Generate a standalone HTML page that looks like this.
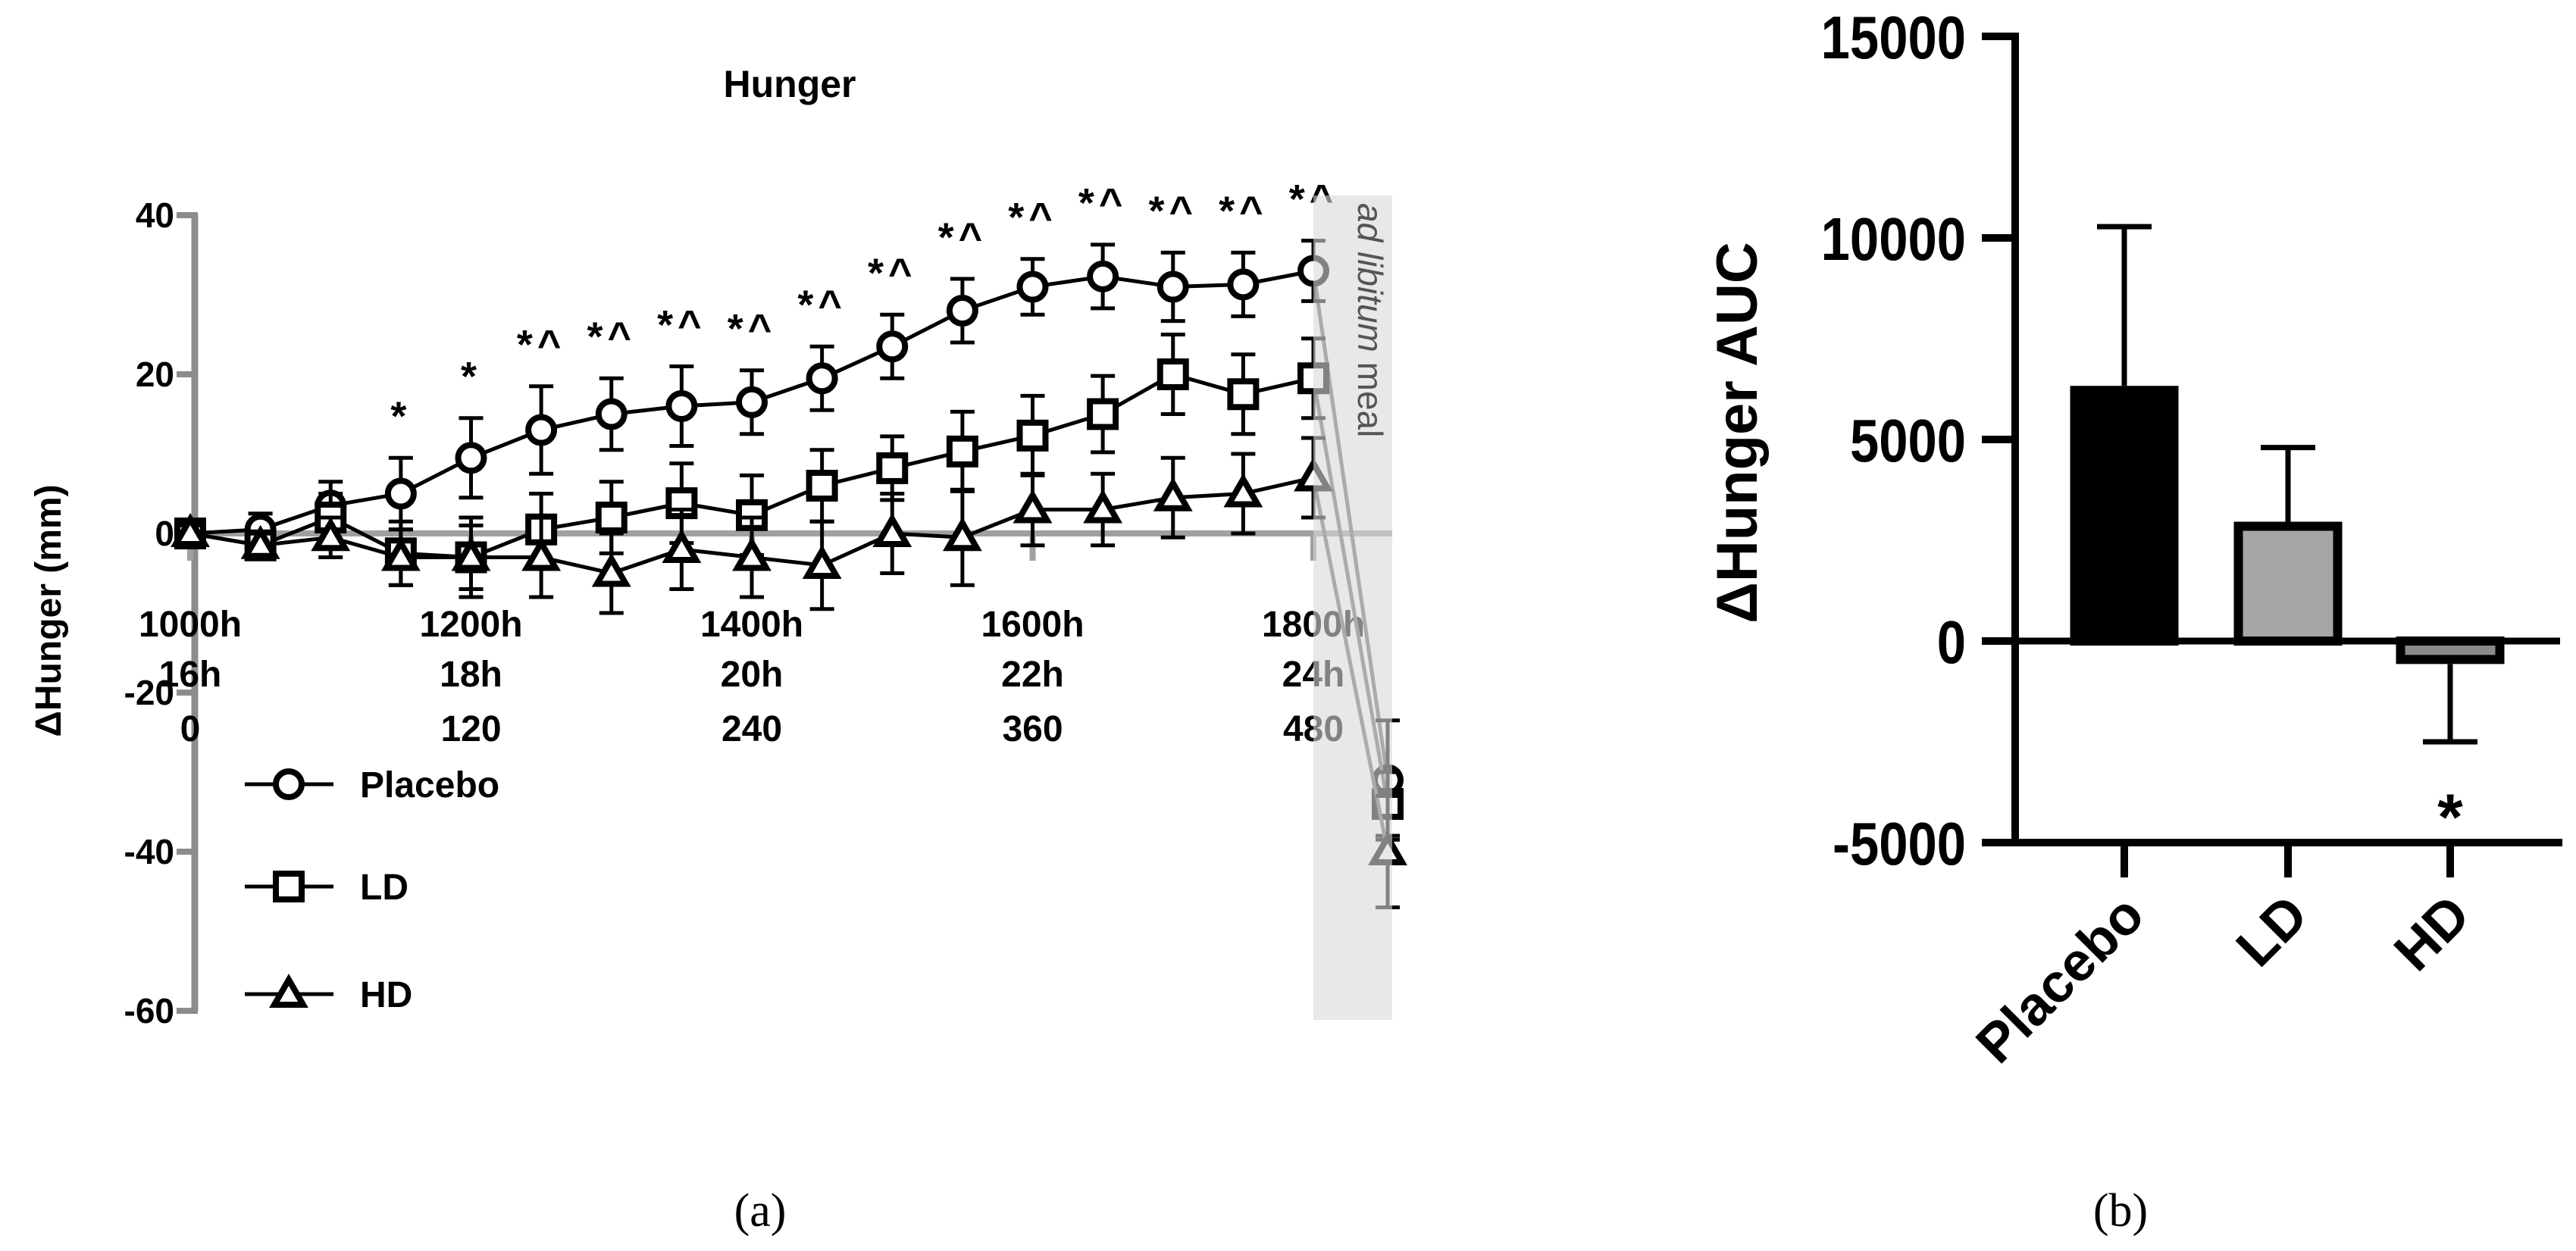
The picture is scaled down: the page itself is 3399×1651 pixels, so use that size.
<!DOCTYPE html>
<html><head><meta charset="utf-8">
<style>
html,body{margin:0;padding:0;background:#fff;}
svg{display:block;}
text{font-family:"Liberation Sans",sans-serif;}
</style></head>
<body>
<svg id="fig" width="3399" height="1651" viewBox="0 0 3399 1651" xmlns="http://www.w3.org/2000/svg">
<g id="left"></g>
<g id="right"></g>
<text x="1003" y="1618" font-size="62" text-anchor="middle" style="font-family:'Liberation Serif',serif">(a)</text>
<text x="2798" y="1618" font-size="62" text-anchor="middle" style="font-family:'Liberation Serif',serif">(b)</text>
</svg>
<script>
// ---------- Left chart data ----------
const timeMin = [0,30,60,90,120,150,180,210,240,270,300,330,360,390,420,450,480];
const placebo = [0,0.5,3.5,5,9.5,13,15,16,16.5,19.5,23.5,28,31,32.3,31,31.3,33];
const placeboErr = [1,2,3,4.5,5,5.5,4.5,5,4,4,4,4,3.5,4,4.3,4,3.8];
const ld = [0,-1.5,2,-2.5,-3,0.5,2,3.8,2.3,6,8.2,10.3,12.3,15,20,17.5,19.5];
const ldErr = [1,1.5,3,4,5,4.5,4.5,5,5,4.5,4,5,5,4.8,5,5,5];
const hd = [0,-1.5,-0.5,-3,-3,-3,-5,-2,-3,-4,0,-0.5,3,3,4.5,5,7];
const hdErr = [1,1.5,2.5,3.5,4,5,5,5,5,5.5,5,6,4.5,4.5,5,5,5];
const postVals = [-31,-34,-40];
const postErr = [7.5,4,7];
const sigLabels = ["","","","*","*","*^","*^","*^","*^","*^","*^","*^","*^","*^","*^","*^","*^"];
const yTicks = [40,20,0,-20,-40,-60];
const xTickMin = [0,120,240,360,480];
const clockLabels = ["1000h","1200h","1400h","1600h","1800h"];
const hourLabels = ["16h","18h","20h","22h","24h"];
const minLabels = ["0","120","240","360","480"];

// ---------- Right chart data ----------
const groups = ["Placebo","LD","HD"];
const aucVals = [6330,2960,-570];
const aucErr = [3950,1840,1930];
const aucTicks = [15000,10000,5000,0,-5000];

const NS="http://www.w3.org/2000/svg";
function mk(tag, attrs, parent){const e=document.createElementNS(NS,tag);for(const k in attrs)e.setAttribute(k,attrs[k]);parent.appendChild(e);return e;}

// ---------- Left ----------
const L=document.getElementById('left');
const xL = m => 251 + (m/480)*(1733-251);
const yL = v => 704 - v*10.5;
const xPost = 1831;
const axisGray="#8c8c8c";

let t=mk('text',{x:1042,y:128,'font-size':50,'font-weight':'bold','text-anchor':'middle'},L);
t.textContent="Hunger";



let ax=mk('line',{x1:257,y1:yL(40),x2:257,y2:yL(-60),stroke:axisGray,'stroke-width':9},L);


yTicks.forEach(v=>{
  const tk=mk('line',{x1:233,y1:yL(v),x2:261,y2:yL(v),stroke:axisGray,'stroke-width':8},L);
  
  
  const tl=mk('text',{x:230,y:yL(v)+16,'font-size':46,'font-weight':'bold','text-anchor':'end'},L);
  tl.textContent=String(v);
  
  
});
let yt=mk('text',{x:0,y:0,'font-size':48,'font-weight':'bold','text-anchor':'middle',transform:'translate(80,806) rotate(-90)'},L);
yt.textContent="ΔHunger (mm)";



let zl=mk('line',{x1:257,y1:yL(0),x2:1837,y2:yL(0),stroke:"#a0a0a0",'stroke-width':8},L);


xTickMin.forEach((m,i)=>{
  const tk=mk('line',{x1:xL(m),y1:yL(0),x2:xL(m),y2:yL(0)+36,stroke:"#a0a0a0",'stroke-width':8},L);
  
  
  [[clockLabels,840],[hourLabels,906],[minLabels,978]].forEach(([arr,yy])=>{
    const tl=mk('text',{x:xL(m),y:yy,'font-size':48,'font-weight':'bold','text-anchor':'middle'},L);
    tl.textContent=arr[i];
    
    
  });
});

function marker(kind,cx,cy,parent,col){
  let e;
  if(kind==='circle') e=mk('circle',{cx:cx,cy:cy,r:17,fill:'#fff',stroke:col,'stroke-width':8},parent);
  else if(kind==='square') e=mk('rect',{x:cx-17,y:cy-17,width:34,height:34,fill:'#fff',stroke:col,'stroke-width':8},parent);
  else e=mk('polygon',{points:`${cx},${cy-19} ${cx+19},${cy+14} ${cx-19},${cy+14}`,fill:'#fff',stroke:col,'stroke-width':8,'stroke-linejoin':'miter'},parent);
  return e;
}
const series=[["placebo",placebo,placeboErr,'circle'],["ld",ld,ldErr,'square'],["hd",hd,hdErr,'triangle']];
series.forEach(([nm,vals,errs,kind],si)=>{
  const g=mk('g',{},L);
  
  
  const pts=vals.map((v,i)=>xL(timeMin[i])+','+yL(v)).join(' ');
  const pl=mk('polyline',{points:pts,fill:'none',stroke:'#000','stroke-width':5},g);
  
  
  const cl=mk('line',{x1:xL(480),y1:yL(vals[vals.length-1]),x2:xPost,y2:yL(postVals[si]),stroke:'#666','stroke-width':5},g);
  
  
  vals.forEach((v,i)=>{
    const x=xL(timeMin[i]);
    const eb=mk('path',{d:`M${x},${yL(v+errs[i])}V${yL(v-errs[i])}M${x-16},${yL(v+errs[i])}h32M${x-16},${yL(v-errs[i])}h32`,stroke:'#000','stroke-width':5,fill:'none'},g);
    
    
  });
  vals.forEach((v,i)=>{
    const m=marker(kind,xL(timeMin[i]),yL(v),g,'#000');
    
    
  });
  const pv=postVals[si],pe=postErr[si];
  const eb=mk('path',{d:`M${xPost},${yL(pv+pe)}V${yL(pv-pe)}M${xPost-16},${yL(pv+pe)}h32M${xPost-16},${yL(pv-pe)}h32`,stroke:'#000','stroke-width':5,fill:'none'},g);
  
  
  const pm=marker(kind,xPost,yL(pv),g,'#000');
  
  
});
sigLabels.forEach((s,i)=>{
  if(!s) return;
  const tl=mk('text',{x:xL(timeMin[i]),y:yL(placebo[i]+placeboErr[i]+3.5),'font-size':54,'font-weight':'bold','text-anchor':'middle','letter-spacing':6},L);
  tl.textContent=s;
  
  
});
let sh=mk('rect',{x:1733,y:258,width:104,height:1088,fill:'#d8d8d8','fill-opacity':0.6},L);


let ml=mk('text',{x:0,y:0,'font-size':46,fill:'#555',transform:'translate(1792,268) rotate(90)'},L);
ml.innerHTML='<tspan font-style="italic">ad libitum</tspan> meal';


const legY=[1035,1170,1312], legNames=["Placebo","LD","HD"];
series.forEach(([nm,,,kind],i)=>{
  const g=mk('g',{},L);
  
  
  mk('line',{x1:323,y1:legY[i],x2:440,y2:legY[i],stroke:'#000','stroke-width':5},g);
  marker(kind,381,legY[i],g,'#000');
  const tl=mk('text',{x:475,y:legY[i]+17,'font-size':48,'font-weight':'bold'},g);
  tl.textContent=legNames[i];
});

// ---------- Right ----------
const R=document.getElementById('right');
const yR = v => 846 - v*(266/5000);
const xC=[2803,3019,3233];
const barW=143;
let ra=mk('line',{x1:2659,y1:yR(15000)-5,x2:2659,y2:yR(-5000)+5,stroke:'#000','stroke-width':10},R);


aucTicks.forEach(v=>{
  const tk=mk('line',{x1:2615,y1:yR(v),x2:2659,y2:yR(v),stroke:'#000','stroke-width':10},R);
  
  
  const tl=mk('text',{x:0,y:0,'font-size':80,'font-weight':'bold','text-anchor':'end',transform:`translate(2594,${yR(v)+29}) scale(0.86,1)`},R);
  tl.textContent=String(v);
  
  
});
let rx=mk('line',{x1:2659,y1:yR(-5000),x2:3381,y2:yR(-5000),stroke:'#000','stroke-width':10},R);


let rz=mk('line',{x1:2659,y1:yR(0),x2:3378,y2:yR(0),stroke:'#000','stroke-width':9},R);


let rt=mk('text',{x:0,y:0,'font-size':76,'font-weight':'bold','text-anchor':'middle',transform:'translate(2318,571) rotate(-90)'},R);
rt.textContent="ΔHunger AUC";


const fills=['#000','#a6a6a8','#8a8a8a'];
groups.forEach((gname,i)=>{
  const v=aucVals[i], e=aucErr[i], x=xC[i];
  const top=Math.min(yR(v),yR(0)), h=Math.abs(yR(v)-yR(0));
  const eEnd=v>=0? v+e : v-e;
  const eb=mk('path',{d:`M${x},${yR(v)}V${yR(eEnd)}M${x-36},${yR(eEnd)}h72`,stroke:'#000','stroke-width':7,fill:'none'},R);
  
  
  const b=mk('rect',{x:x-barW/2+6,y:top+6-(v<0?6:0),width:barW-12,height:Math.max(h-6,6),fill:fills[i],stroke:'#000','stroke-width':12},R);
  
  
  const tk=mk('line',{x1:x,y1:yR(-5000),x2:x,y2:yR(-5000)+46,stroke:'#000','stroke-width':10},R);
  
  
  const tl=mk('text',{x:0,y:0,'font-size':72,'font-weight':'bold','text-anchor':'end',transform:`translate(${x+30},${yR(-5000)+100}) rotate(-45)`},R);
  tl.textContent=gname;
  
  
});
let st=mk('text',{x:3233,y:1108,'font-size':86,'font-weight':'bold','text-anchor':'middle'},R);
st.textContent="*";


</script>
</body></html>
